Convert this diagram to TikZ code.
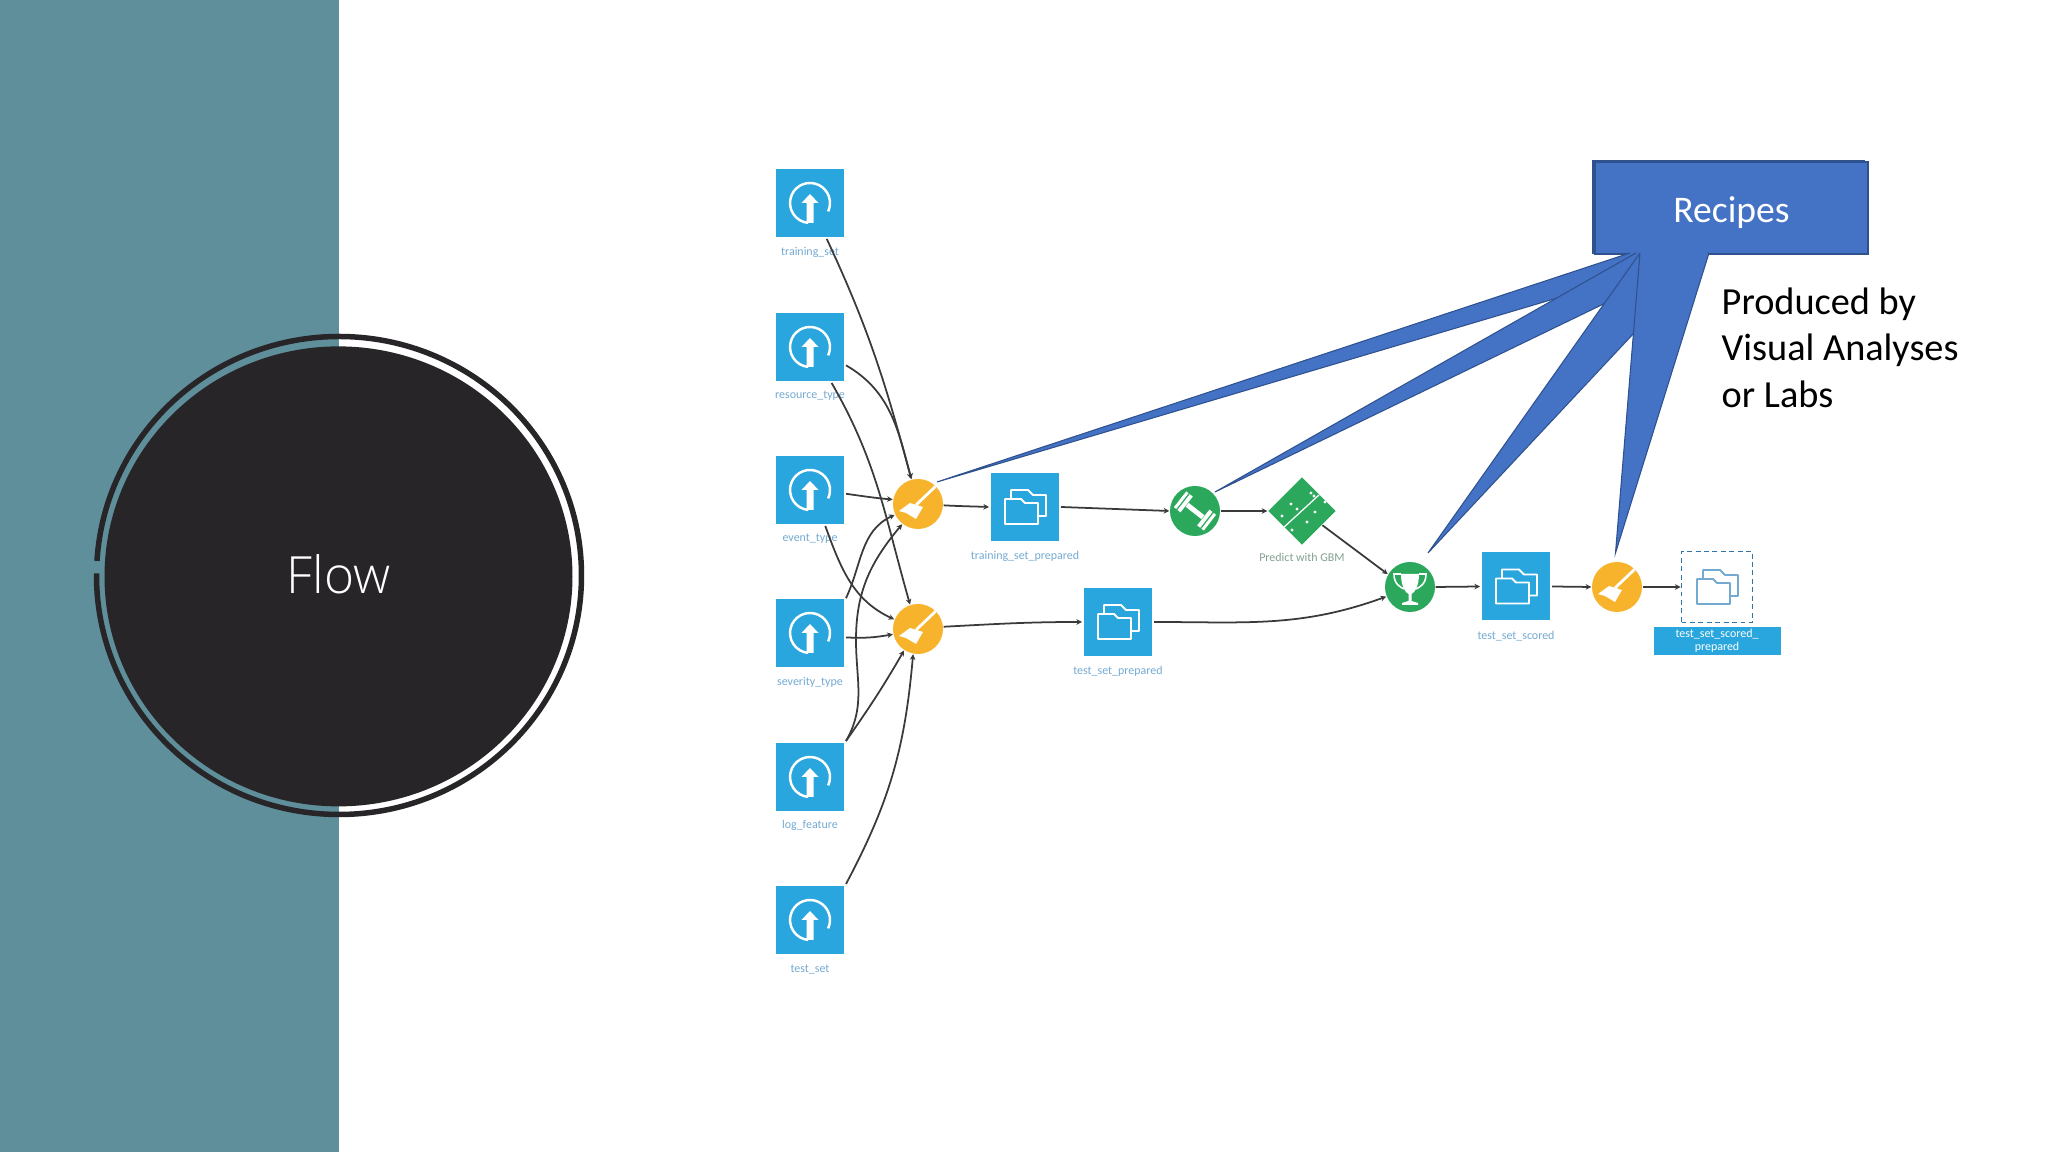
\documentclass[tikz,border=0pt]{standalone}
\usepackage{fontspec}
\setmainfont{Carlito}
\newfontfamily\flowfont{Open Sans Light}
\usetikzlibrary{shapes.geometric, arrows.meta}
\definecolor{sidebar}{HTML}{5F8F9B}
\definecolor{discdark}{HTML}{272528}
\definecolor{flowblue}{HTML}{29A6DD}
\definecolor{floworange}{HTML}{F7B32B}
\definecolor{flowgreen}{HTML}{2BA85C}
\definecolor{labblue}{HTML}{74AAD2}
\definecolor{labgreen}{HTML}{84A090}
\definecolor{calloutfill}{HTML}{4472C4}
\definecolor{calloutline}{HTML}{2F528F}
\definecolor{edgegray}{HTML}{3A3A3A}
\definecolor{dashblue}{HTML}{2F74A6}
\newcommand{\foldericon}[1]{%
  \draw[#1, solid, line width=.55pt, line join=round] (-.14,.08) -- (-.14,.17) -- (.03,.17) -- (.08,.12) -- (.21,.12) -- (.21,-.09) -- (.13,-.09);
  \draw[#1, solid, line width=.55pt, line join=round] (-.20,.08) -- (-.04,.08) -- (0,.04) -- (.13,.04) -- (.13,-.17) -- (-.20,-.17) -- cycle;}
\newcommand{\broomicon}{%
  \draw[white, line width=.8pt] (.19,.19) -- (-.02,-.01);
  \fill[white] (-.19,-.07) -- (-.08,.01) -- (.05,-.03) -- (-.02,-.15) -- (-.12,-.09) -- cycle;}
\tikzset{>={Stealth[length=1.6pt,width=1.6pt]},
  iconat/.style={shift={(path picture bounding box.center)}},
  uploadbox/.style={rectangle, fill=flowblue, minimum size=.68cm, inner sep=0pt, outer sep=.02cm,
    path picture={\begin{scope}[iconat]
      \draw[white, line width=.7pt] (-25:.2) arc[start angle=-25, end angle=265, radius=.2];
      \fill[white] (-.035,-.2) -- (-.035,0) -- (-.085,0) -- (0,.09) -- (.085,0) -- (.035,0) -- (.035,-.2) -- cycle;
    \end{scope}}},
  folderbox/.style={rectangle, fill=flowblue, minimum size=.68cm, inner sep=0pt, outer sep=.02cm,
    path picture={\begin{scope}[iconat]\foldericon{white}\end{scope}}},
  dashbox/.style={rectangle, draw=dashblue, dash pattern=on 1.4pt off 1pt, line width=.55pt, minimum size=.71cm, inner sep=0pt,
    path picture={\begin{scope}[iconat]\foldericon{labblue}\end{scope}}},
  broomdot/.style={circle, fill=floworange, minimum size=.5cm, inner sep=0pt,
    path picture={\begin{scope}[iconat]\broomicon\end{scope}}},
  dumbdot/.style={circle, fill=flowgreen, minimum size=.5cm, inner sep=0pt,
    path picture={\begin{scope}[iconat]
      \draw[white, line width=1.4pt] (-.079,.062) -- (.079,-.062);
      \draw[white, line width=.85pt] (.199,-.029) -- (.076,-.187);
      \draw[white, line width=1.1pt] (.160,.002) -- (.037,-.156);
      \draw[white, line width=.85pt] (-.199,.029) -- (-.076,.187);
      \draw[white, line width=1.1pt] (-.160,-.002) -- (-.037,.156);
    \end{scope}}},
  cupdot/.style={circle, fill=flowgreen, minimum size=.5cm, inner sep=0pt,
    path picture={\begin{scope}[iconat]
      \fill[white] (-.09,.13) -- (.09,.13) .. controls (.09,.0) and (.04,-.06) .. (.015,-.07) -- (.015,-.14) -- (.08,-.16) -- (.08,-.18) -- (-.08,-.18) -- (-.08,-.16) -- (-.015,-.14) -- (-.015,-.07) .. controls (-.04,-.06) and (-.09,0) .. (-.09,.13) -- cycle;
      \draw[white, line width=.45pt] (-.09,.13) -- (-.16,.13) .. controls (-.16,.03) and (-.1,0) .. (-.06,-.02);
      \draw[white, line width=.45pt] (.09,.13) -- (.16,.13) .. controls (.16,.03) and (.1,0) .. (.06,-.02);
    \end{scope}}},
  modelshape/.style={diamond, aspect=1, fill=flowgreen, minimum size=.68cm, inner sep=0pt,
    path picture={\begin{scope}[iconat]
      \draw[white, line width=.35pt] (-.2,-.18) -- (.17,.16);
      \foreach \dx/\dy in {.09/.18, -.11/.07, -.05/.02, .13/-.01, .23/.09, .05/-.11, -.1/-.19, .12/.15, -.2/-.05}
        \fill[white] (\dx,\dy) circle (.016);
    \end{scope}}},
  lab/.style={font=\fontsize{3.4}{3.9}\selectfont, text=labblue, inner sep=0pt, yshift=-.012cm},
  flowline/.style={->, draw=edgegray, line width=.5pt},
  recipebox/.style={rectangle, fill=calloutfill, draw=calloutline, line width=.3pt, minimum height=.92cm, inner sep=0pt},
  tailwedge/.style={fill=calloutfill, draw=calloutline, line width=.3pt},
}
\begin{document}
\begin{tikzpicture}
\useasboundingbox (0,0) rectangle (20.48,11.52);
\fill[white] (0,0) rectangle (20.48,11.52);
\fill[sidebar] (0,0) rectangle (3.385,11.52);
% left circle
\draw[discdark, line width=.055cm] (3.39,5.765) ++(179.5:2.425 and 2.39) arc[start angle=179.5, end angle=536.5, x radius=2.425, y radius=2.39];
\node[ellipse, fill=discdark, minimum width=4.68cm, minimum height=4.6cm, inner sep=0pt, text=white, text depth=.05cm, font=\flowfont\fontsize{14.6}{17}\selectfont] (disc) at (3.385,5.756) {Flow};
% inputs
\node[uploadbox] (training) at (8.10,9.49) {};
\node[uploadbox] (resource) at (8.10,8.05) {};
\node[uploadbox] (event) at (8.10,6.62) {};
\node[uploadbox] (severity) at (8.10,5.19) {};
\node[uploadbox] (logfeature) at (8.10,3.75) {};
\node[uploadbox] (testset) at (8.10,2.32) {};
\node[lab] (labtraining) at (8.10,9.01) {training\_set};
\node[lab] (labresource) at (8.10,7.57) {resource\_type};
\node[lab] (labevent) at (8.10,6.14) {event\_type};
\node[lab] (labseverity) at (8.10,4.71) {severity\_type};
\node[lab] (lablog) at (8.10,3.28) {log\_feature};
\node[lab] (labtest) at (8.10,1.84) {test\_set};
% recipes and datasets
\node[broomdot] (broomA) at (9.18,6.48) {};
\node[broomdot] (broomB) at (9.18,5.23) {};
\node[broomdot] (broomC) at (16.17,5.65) {};
\node[folderbox] (trainprep) at (10.25,6.45) {};
\node[lab] (labtrainprep) at (10.25,5.97) {training\_set\_prepared};
\node[folderbox] (testprep) at (11.18,5.30) {};
\node[lab] (labtestprep) at (11.18,4.82) {test\_set\_prepared};
\node[dumbdot] (trainrec) at (11.95,6.41) {};
\node[modelshape] (model) at (13.02,6.41) {};
\node[lab, text=labgreen] (labmodel) at (13.02,5.96) {Predict with GBM};
\node[cupdot] (scorerec) at (14.10,5.65) {};
\node[folderbox] (scored) at (15.16,5.655) {};
\node[lab] (labscored) at (15.16,5.17) {test\_set\_scored};
\node[dashbox] (final) at (17.17,5.65) {};
\node[rectangle, fill=flowblue, minimum width=1.27cm, minimum height=.283cm, inner sep=0pt, text=white, align=center, font=\fontsize{3.4}{3.7}\selectfont] (labfinal) at (17.17,5.11) {test\_set\_scored\_\\prepared};
% connectors
\draw[flowline] (training.-65) to[out=-65, in=105] (broomA.105);
\draw[flowline] (resource.-27) to[out=-30, in=105] (broomA.105);
\draw[flowline] (resource.-59) to[out=-60, in=106] (broomB.108);
\draw[flowline] (event.-6) to[out=-8, in=175] (broomA.170);
\draw[flowline] (event.-67) to[out=-70, in=155] (broomB.158);
\draw[flowline] (severity.44) to[out=65, in=205] (broomA.205);
\coordinate (logbend) at (8.56,5.12);
\draw[flowline] (logfeature.45) to[out=60, in=-90] (logbend) to[out=90, in=230] (broomA.232);
\draw[flowline] (severity.-7) to[out=-3, in=190] (broomB.192);
\draw[flowline] (logfeature.45) to[out=55, in=240] (broomB.237);
\draw[flowline] (testset.45) to[out=62, in=-95] (broomB.259);
\draw[flowline] (broomA.-3) to[out=-3, in=178] (trainprep.west);
\draw[flowline] (trainprep.east) -- (trainrec.west);
\draw[flowline] (trainrec.east) -- (model.west);
\draw[flowline] (broomB.5) to[out=3, in=180] (testprep.west);
\draw[flowline] (testprep.east) to[out=0, in=200] (scorerec.202);
\draw[flowline] (model.-35) -- (scorerec.150);
\draw[flowline] (scorerec.east) -- (scored.west);
\draw[flowline] (scored.east) -- (broomC.west);
\draw[flowline] (broomC.east) -- (final.west);
% callout
\node[recipebox, minimum width=2.71cm] (recipesback) at (17.285,9.45) {};
\node[recipebox, minimum width=2.73cm, text=white, text depth=0pt, text height=.29cm, font=\fontsize{10.7}{13}\selectfont] (recipes) at (17.315,9.44) {Recipes};
\coordinate (basea) at (16.30,8.99);
\coordinate (baseb) at (16.36,8.99);
\coordinate (basec) at (16.40,8.99);
\coordinate (based) at (17.09,8.99);
\coordinate (tipa) at (9.37,6.70);
\coordinate (tipb) at (12.15,6.60);
\coordinate (tipc) at (14.28,5.99);
\coordinate (tipd) at (16.155,5.99);
\filldraw[tailwedge] (basea) -- (tipa) -- (based);
\filldraw[tailwedge] (baseb) -- (tipb) -- (based);
\filldraw[tailwedge] (basec) -- (tipc) -- (based);
\filldraw[tailwedge] (basec) -- (tipd) -- (based);
\node[anchor=west, align=left, inner sep=0pt, font=\fontsize{10.9}{13.2}\selectfont] (producedby) at (17.21,8.045) {Produced by\\Visual Analyses\\or Labs};
\end{tikzpicture}
\end{document}
